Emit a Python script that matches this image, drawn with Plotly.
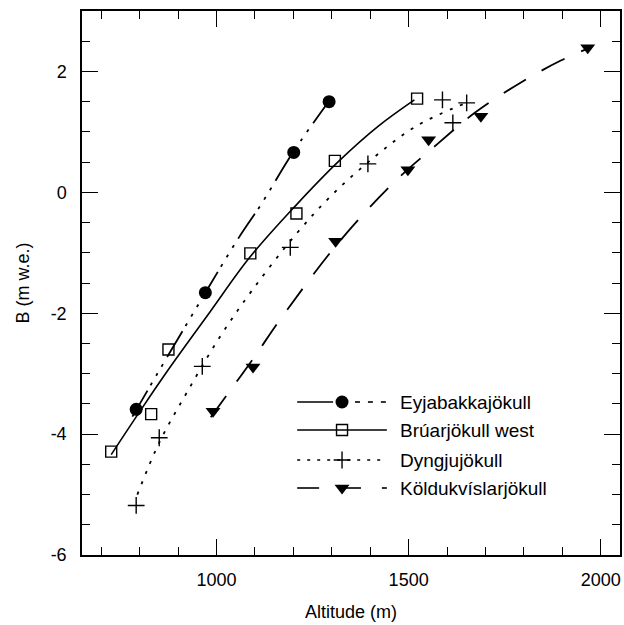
import plotly.graph_objects as go

# ---------------- data ----------------
series_names = ["Eyjabakkajökull", "Brúarjökull west", "Dyngjujökull", "Köldukvíslarjökull"]

eyja_alt = [791, 971, 1201, 1293]
eyja_b = [-3.59, -1.66, 0.66, 1.50]
eyja_fit_alt = [781, 848, 957, 1055, 1117, 1200, 1293]
eyja_fit_b = [-3.71, -2.98, -1.81, -0.78, -0.19, 0.67, 1.51]

bruar_alt = [726, 830, 875, 1088, 1208, 1308, 1522]
bruar_b = [-4.29, -3.67, -2.60, -1.01, -0.35, 0.52, 1.55]
bruar_fit_alt = [726, 801, 874, 983, 1086, 1203, 1319, 1422, 1515]
bruar_fit_b = [-4.34, -3.62, -2.94, -1.98, -1.08, -0.24, 0.52, 1.10, 1.53]

dyng_alt = [791, 851, 963, 1192, 1394, 1588, 1615, 1651]
dyng_b = [-5.18, -4.06, -2.88, -0.91, 0.47, 1.53, 1.15, 1.48]
dyng_fit_alt = [794, 851, 923, 1008, 1094, 1206, 1301, 1412, 1521, 1650]
dyng_fit_b = [-5.00, -4.14, -3.31, -2.40, -1.61, -0.70, -0.04, 0.59, 1.10, 1.48]

kold_alt = [991, 1095, 1310, 1498, 1552, 1688, 1966]
kold_b = [-3.62, -2.89, -0.81, 0.375, 0.87, 1.26, 2.39]
kold_fit_alt = [985, 1099, 1166, 1319, 1461, 1573, 1673, 1790, 1896, 1971]
kold_fit_b = [-3.72, -2.72, -2.10, -0.82, 0.16, 0.79, 1.32, 1.81, 2.18, 2.39]

x_tick_vals = [1000, 1500, 2000]
x_tick_text = ["1000", "1500", "2000"]
y_tick_vals = [-6, -4, -2, 0, 2]
y_tick_text = ["-6", "-4", "-2", "0", "2"]

# ---------------- styles ----------------
FONT = "Liberation Sans, Arial, Helvetica, sans-serif"
BLK = "black"
dash_eyja = "30px,6px,3px,8px,3px,8px,3px,8px"
dash_bruar = "solid"
dash_dyng = "3px,8px"
dash_kold = "26px,18px"

fig = go.Figure()

# fitted curves
fig.add_trace(go.Scatter(x=eyja_fit_alt, y=eyja_fit_b, mode="lines", line=dict(color=BLK, width=1.8, dash=dash_eyja, shape="spline"), showlegend=False))
fig.add_trace(go.Scatter(x=bruar_fit_alt, y=bruar_fit_b, mode="lines", line=dict(color=BLK, width=1.6, dash=dash_bruar, shape="spline"), showlegend=False))
fig.add_trace(go.Scatter(x=dyng_fit_alt, y=dyng_fit_b, mode="lines", line=dict(color=BLK, width=1.8, dash=dash_dyng, shape="spline"), showlegend=False))
fig.add_trace(go.Scatter(x=kold_fit_alt, y=kold_fit_b, mode="lines", line=dict(color=BLK, width=1.8, dash=dash_kold, shape="spline"), showlegend=False))

# markers
m_eyja = dict(symbol="circle", size=13, color=BLK)
m_bruar = dict(symbol="square-open", size=11, color=BLK, line=dict(width=1.4, color=BLK))
m_dyng = dict(symbol="cross-thin", size=12, color=BLK, line=dict(width=1.4, color=BLK))
m_kold = dict(symbol="triangle-down", size=13, color=BLK)

fig.add_trace(go.Scatter(x=eyja_alt, y=eyja_b, mode="markers", marker=m_eyja, showlegend=False))
fig.add_trace(go.Scatter(x=bruar_alt, y=bruar_b, mode="markers", marker=m_bruar, showlegend=False))
fig.add_trace(go.Scatter(x=dyng_alt, y=dyng_b, mode="markers", marker=m_dyng, showlegend=False))
fig.add_trace(go.Scatter(x=kold_alt, y=kold_b, mode="markers", marker=m_kold, showlegend=False))

# ---------------- hand-drawn legend (pixel coordinates on overlay axes) ----------------
leg_rows = [402, 430, 460, 488]
leg_x0, leg_xm, leg_x1, leg_tx = 298, 343, 388, 399

def seg(xa, xb, y, dash, width=1.6):
    fig.add_trace(go.Scatter(x=[xa, xb], y=[y, y], mode="lines", xaxis="x2", yaxis="y2",
                             line=dict(color=BLK, width=width, dash=dash), showlegend=False, hoverinfo="skip"))

def mk(y, marker):
    fig.add_trace(go.Scatter(x=[leg_xm], y=[y], mode="markers", xaxis="x2", yaxis="y2",
                             marker=marker, showlegend=False, hoverinfo="skip"))

# Eyjabakkajökull: solid, marker, short dashes
seg(leg_x0, 334, leg_rows[0], "solid")
for a in (356, 369, 382):
    seg(a, a + 5, leg_rows[0], "solid")
mk(leg_rows[0], m_eyja)
# Brúarjökull west
seg(leg_x0, leg_x1, leg_rows[1], "solid", 1.4)
mk(leg_rows[1], m_bruar)
# Dyngjujökull
seg(leg_x0, leg_x1, leg_rows[2], "3px,7px", 1.6)
mk(leg_rows[2], m_dyng)
# Köldukvíslarjökull
seg(leg_x0, 320, leg_rows[3], "solid")
seg(347, 362, leg_rows[3], "solid")
seg(383, 388, leg_rows[3], "solid")
mk(leg_rows[3], m_kold)

annotations = []
for name, yy in zip(series_names, leg_rows):
    annotations.append(dict(x=leg_tx, y=yy, xref="x2", yref="y2", text=name, showarrow=False,
                            xanchor="left", yanchor="middle", font=dict(family=FONT, size=19, color=BLK)))

axis_common = dict(showgrid=False, zeroline=False, showline=True, linecolor=BLK, linewidth=1.5,
                   mirror="ticks", ticks="inside", ticklen=16, tickwidth=1.3, tickcolor=BLK,
                   tickfont=dict(family=FONT, size=18, color=BLK))

fig.update_layout(
    width=624, height=625,
    margin=dict(l=82, r=2, t=11, b=70),
    paper_bgcolor="white", plot_bgcolor="white",
    font=dict(family=FONT, color=BLK),
    showlegend=False,
    xaxis=dict(range=[650, 2050], tickmode="array", tickvals=x_tick_vals, ticktext=x_tick_text,
               minor=dict(tickmode="linear", tick0=0, dtick=100, ticks="inside", ticklen=8, tickcolor=BLK, tickwidth=1.3),
               title=dict(text="Altitude (m)", font=dict(family=FONT, size=18, color=BLK), standoff=16),
               ticklabelstandoff=8, **axis_common),
    yaxis=dict(range=[-6, 3], tickmode="array", tickvals=y_tick_vals, ticktext=y_tick_text,
               minor=dict(tickmode="linear", tick0=0, dtick=0.5, ticks="inside", ticklen=8, tickcolor=BLK, tickwidth=1.3),
               title=dict(text="B (m w.e.)", font=dict(family=FONT, size=18, color=BLK), standoff=16),
               ticklabelstandoff=10, **axis_common),
    xaxis2=dict(overlaying="x", range=[82, 622], visible=False, fixedrange=True),
    yaxis2=dict(overlaying="y", range=[555, 11], visible=False, fixedrange=True),
    annotations=annotations,
)

fig.write_html("out.html")
